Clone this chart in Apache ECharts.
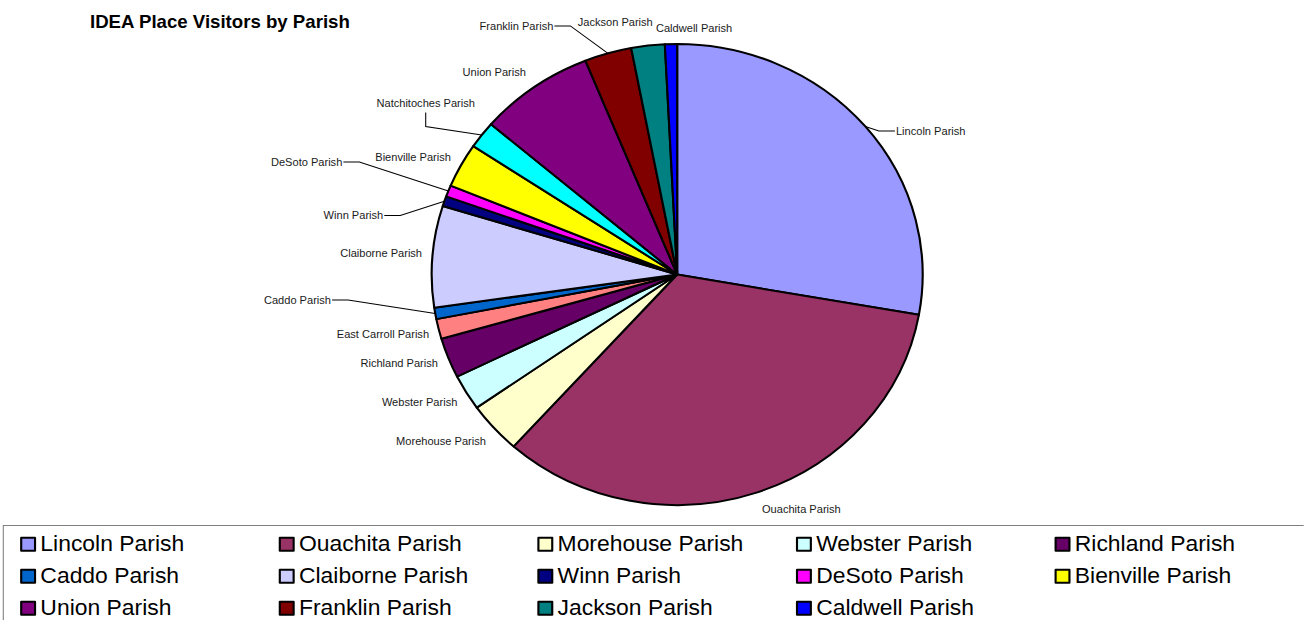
<!DOCTYPE html>
<html>
<head>
<meta charset="utf-8">
<script src="https://cdn.jsdelivr.net/npm/echarts@6/dist/echarts.min.js"></script>
<style>
html, body { margin: 0; padding: 0; background: #ffffff; overflow: hidden; width: 1304px; height: 620px; }
#chart { width: 1224px; height: 620px; transform: scaleX(1.06508); transform-origin: 0 0; }
</style>
</head>
<body>
<div id="chart"></div>
<script>
// ---- data ----
const parishes = [
  'Lincoln Parish', 'Ouachita Parish', 'Morehouse Parish', 'Webster Parish',
  'Richland Parish', 'East Carroll Parish', 'Caddo Parish', 'Claiborne Parish',
  'Winn Parish', 'DeSoto Parish', 'Bienville Parish', 'Natchitoches Parish',
  'Union Parish', 'Franklin Parish', 'Jackson Parish', 'Caldwell Parish'
];
const visitors = [278, 338, 36, 25, 28, 14, 8, 71, 7, 8, 31, 19, 76, 31, 22, 8];
const legendParishes = [
  'Lincoln Parish', 'Ouachita Parish', 'Morehouse Parish', 'Webster Parish', 'Richland Parish',
  'Caddo Parish', 'Claiborne Parish', 'Winn Parish', 'DeSoto Parish', 'Bienville Parish',
  'Union Parish', 'Franklin Parish', 'Jackson Parish', 'Caldwell Parish'
];
const chartTitle = 'IDEA Place Visitors by Parish';

// ---- styles ----
const sliceColors = [
  '#9999FF', '#993366', '#FFFFCC', '#CCFFFF', '#660066', '#FF8080', '#0066CC', '#CCCCFF',
  '#000080', '#FF00FF', '#FFFF00', '#00FFFF', '#800080', '#800000', '#008080', '#0000FF'
];
// label line lengths (style) and leader style per slice
const labelStyle = {
  'Lincoln Parish':      { len: -7.0, len2: 29.1, leader: 'side' },
  'Ouachita Parish':     { len: 17.7, len2: -6.5 },
  'Morehouse Parish':    { len: 20.3, len2: -12.5 },
  'Webster Parish':      { len: 19.3, len2: -13.2 },
  'Richland Parish':     { len: 13.8, len2: -8.1 },
  'East Carroll Parish': { len: 21.1, len2: -16.5 },
  'Caddo Parish':        { len: -79.4, len2: 171.1, leader: 'side' },
  'Claiborne Parish':    { len: 43.3, len2: -38.4 },
  'Winn Parish':         { len: -45.0, len2: 95.1, leader: 'side' },
  'DeSoto Parish':       { len: 80.1, len2: 19.9, leader: 'side' },
  'Bienville Parish':    { len: 17.7, len2: -11.2 },
  'Natchitoches Parish': { len: 52.7, len2: -40.5, leader: 'bottom' },
  'Union Parish':        { len: 18.3, len2: -8.0 },
  'Franklin Parish':     { len: 28.6, len2: 38.2, leader: 'side' },
  'Jackson Parish':      { len: 24.1, len2: -12.4 },
  'Caldwell Parish':     { len: 15.8, len2: -62.9 }
};

const FONT = '"Liberation Sans", Arial, Helvetica, sans-serif';

const pieData = parishes.map(function (name, i) {
  const st = labelStyle[name];
  return {
    name: name,
    value: visitors[i],
    itemStyle: { color: sliceColors[i] },
    labelLine: { show: !!st.leader, length: st.len, length2: st.len2 }
  };
});

const chart = echarts.init(document.getElementById('chart'), null, { renderer: 'svg', width: 1224, height: 620 });

chart.setOption({
  animation: false,
  backgroundColor: '#ffffff',
  title: {
    text: chartTitle,
    left: 84.5,
    top: 13,
    padding: 0,
    textStyle: { fontFamily: FONT, fontSize: 17.5, fontWeight: 'bold', color: '#000000', lineHeight: 17.5 }
  },
  graphic: [{
    type: 'rect',
    silent: true,
    shape: { x: 3.1, y: 525.5, width: 1300, height: 200 },
    style: { fill: 'none', stroke: '#7f7f7f', lineWidth: 1 }
  }],
  legend: {
    data: legendParishes,
    left: 18.9,
    top: 533.2,
    padding: 0,
    orient: 'horizontal',
    icon: 'rect',
    itemWidth: 13,
    itemHeight: 13,
    itemGap: 10,
    selectedMode: false,
    itemStyle: { borderColor: '#000000', borderWidth: 2 },
    textStyle: { fontFamily: FONT, fontSize: 21.5, color: '#000000', width: 213.8, lineHeight: 20.7 }
  },
  series: [{
    type: 'pie',
    center: [635.8, 274.5],
    radius: 230.5,
    startAngle: 90,
    clockwise: true,
    avoidLabelOverlap: false,
    silent: true,
    itemStyle: { borderColor: '#000000', borderWidth: 2 },
    label: {
      show: true,
      position: 'outside',
      formatter: '{b}',
      fontFamily: FONT,
      fontSize: 10.4,
      color: '#1a1a1a',
      alignTo: 'none',
      distanceToLabelLine: 5
    },
    labelLine: {
      show: false,
      lineStyle: { color: '#000000', width: 1 }
    },
    labelLayout: function (p) {
      const st = labelStyle[parishes[p.dataIndex]];
      if (!st || !st.leader || !p.labelLinePoints) return {};
      const r = p.labelRect;
      const start = p.labelLinePoints[0];
      let pts;
      if (st.leader === 'bottom') {
        const x = r.x + r.width / 2;
        const y = r.y + r.height;
        pts = [start, [x, y + 18.5], [x, y + 4.5]];
      } else {
        const toLeft = r.x + r.width / 2 < start[0];
        const ex = toLeft ? r.x + r.width + 1 : r.x - 1;
        const ey = r.y + r.height / 2;
        pts = [start, [ex + (toLeft ? 15 : -15), ey], [ex, ey]];
      }
      return { labelLinePoints: pts };
    },
    data: pieData
  }]
});
</script>
</body>
</html>
